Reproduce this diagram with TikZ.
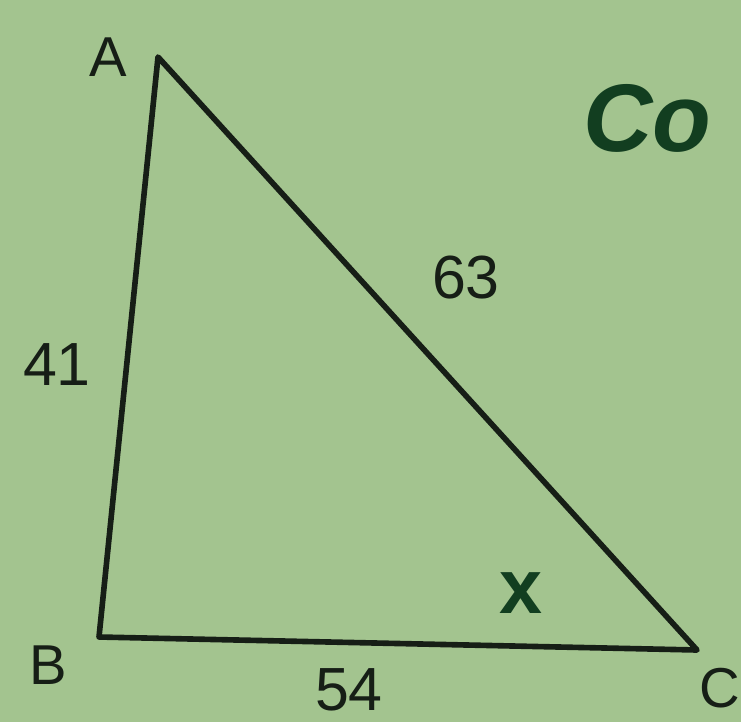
\documentclass[tikz,border=0pt]{standalone}
\usepackage{fontspec}
\setmainfont{Liberation Sans}
\usepackage{xcolor}
\usetikzlibrary{positioning,calc}

\definecolor{paper}{RGB}{163,196,143}
\definecolor{ink}{RGB}{22,30,22}
\definecolor{pen}{RGB}{18,62,32}

\begin{document}
\begin{tikzpicture}[
  x=0.03cm, y=-0.03cm,
  side/.style={draw=ink, line width=4.8pt, line join=round, line cap=round},
  vlabel/.style={text=ink, font=\fontsize{48}{56}\selectfont, inner sep=0pt},
  nlabel/.style={text=ink, font=\fontsize{52}{60}\selectfont, inner sep=0pt},
  hand/.style={text=pen, font=\fontsize{82}{90}\selectfont\bfseries\itshape, inner sep=0pt},
]

\fill[paper] (0,0) rectangle (741,722);
\useasboundingbox (0,0) rectangle (741,722);
\clip (0,0) rectangle (741,722);

\coordinate (A) at (158,57);
\coordinate (B) at (99,637);
\coordinate (C) at (697,650);

\draw[side] (A) -- (B) -- (C) -- cycle;

\node[vlabel] (la) at (108,57) {A};
\node[vlabel] (lb) at (48,665) {B};
\node[vlabel] (lc) at (720,688) {C};

\node[nlabel] (ab) at (57,365) {41};
\node[nlabel] (ac) at (466,278) {63};
\node[nlabel] (bc) at (349,690) {54};

\node[hand, font=\fontsize{66}{72}\selectfont\bfseries] (ang) at (521,593) {x};
\node[hand, anchor=west] (cos) at (583,118) {Co};

\end{tikzpicture}
\end{document}
